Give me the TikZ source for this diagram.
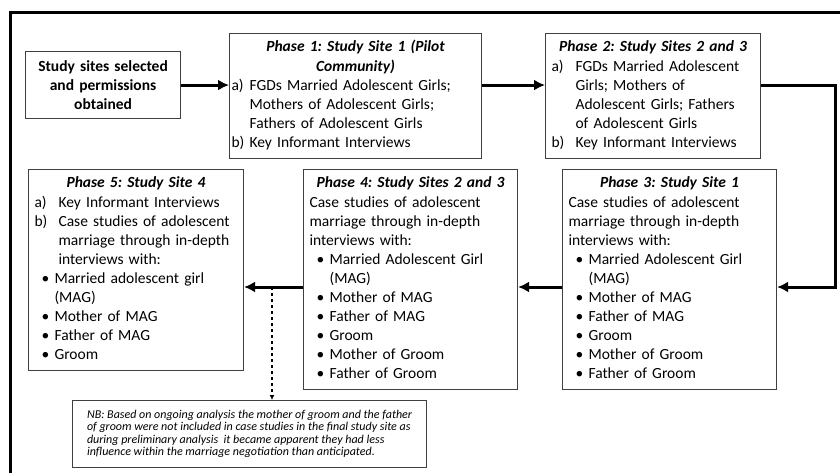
\documentclass[tikz,border=0pt]{standalone}
\usepackage{fontspec}
\setmainfont{Carlito}
\usepackage{tikz}
\usetikzlibrary{arrows.meta}

\newcommand{\phitem}[3][24pt]{\par\noindent\hangindent=#1\hangafter=1%
  \makebox[#1][l]{\strut#2}#3\strut\par}
\newcommand{\phbullet}[1]{\par\noindent\hangindent=20pt\hangafter=1%
  \makebox[20pt][l]{\hspace{7pt}\textbullet}\strut#1\strut\par}
\newcommand{\phtitle}[1]{{\centering\bfseries\itshape\strut#1\strut\par}}

\begin{document}
\frenchspacing
\begin{tikzpicture}[x=1pt, y=-1pt,
    phase/.style={draw=black!75, line width=1.1pt, anchor=north west,
      inner xsep=6pt, inner ysep=5pt, font=\fontsize{15.5}{19.1}\selectfont},
    flow/.style={line width=3pt, -{Latex[length=11pt,width=11pt]}}]
  \useasboundingbox (0,0) rectangle (840,472);
  % outer frame runs off the page on the right and bottom
  \draw[line width=3pt] (10,12) rectangle (860,490);

  \node[phase, text width=143pt, minimum height=67pt, inner ysep=2pt, align=center,
    font=\fontsize{15.5}{18.6}\selectfont\bfseries] (start) at (25,51)
    {Study sites selected\\ and permissions\\ obtained};

  \node[phase, text width=248pt, inner xsep=2pt] (p1) at (229,33) {%
    \phtitle{Phase 1: Study Site 1 (Pilot\\ Community)}
    \phitem[18pt]{a)}{FGDs Married Adolescent Girls;\newline Mothers of Adolescent Girls;\newline Fathers of Adolescent Girls}
    \phitem[18pt]{b)}{Key Informant Interviews}};

  \node[phase, text width=203pt] (p2) at (545,33) {%
    \phtitle{Phase 2: Study Sites 2 and 3}
    \phitem{a)}{FGDs Married Adolescent\newline Girls; Mothers of\newline Adolescent Girls; Fathers\newline of Adolescent Girls}
    \phitem{b)}{Key Informant Interviews}};

  \node[phase, text width=202pt] (p3) at (562,169) {%
    \phtitle{Phase 3: Study Site 1}
    \noindent\strut Case studies of adolescent\newline marriage through in-depth\newline interviews with:\par
    \phbullet{Married Adolescent Girl\newline (MAG)}
    \phbullet{Mother of MAG}
    \phbullet{Father of MAG}
    \phbullet{Groom}
    \phbullet{Mother of Groom}
    \phbullet{Father of Groom}};

  \node[phase, text width=202pt] (p4) at (303,169) {%
    \phtitle{Phase 4: Study Sites 2 and 3}
    \noindent\strut Case studies of adolescent\newline marriage through in-depth\newline interviews with:\par
    \phbullet{Married Adolescent Girl\newline (MAG)}
    \phbullet{Mother of MAG}
    \phbullet{Father of MAG}
    \phbullet{Groom}
    \phbullet{Mother of Groom}
    \phbullet{Father of Groom}};

  \node[phase, text width=203pt] (p5) at (28,169) {%
    \phtitle{Phase 5: Study Site 4}
    \phitem{a)}{Key Informant Interviews}
    \phitem{b)}{Case studies of adolescent\newline marriage through in-depth\newline interviews with:}
    \phbullet{Married adolescent girl\newline (MAG)}
    \phbullet{Mother of MAG}
    \phbullet{Father of MAG}
    \phbullet{Groom}};

  \node[phase, minimum width=354pt, minimum height=67pt, inner ysep=2pt, align=left,
    font=\fontsize{12}{12.5}\selectfont\itshape] (nb) at (72,400)
    {NB: Based on ongoing analysis the mother of groom and the father\\
     of groom were not included in case studies in the final study site as\\
     during preliminary analysis\ \ it became apparent they had less\\
     influence within the marriage negotiation than anticipated.};

  \coordinate (turn) at (835,287);
  \coordinate (split) at (272,287);
  \draw[flow] (start.east) -- (p1.west |- start.east);
  \draw[flow] (p1.east |- start.east) -- (p2.west |- start.east);
  \draw[flow] (p2.east |- start.east) -| (turn) -- (p3.east |- turn);
  \draw[flow] (p3.west |- turn) -- (p4.east |- turn);
  \draw[flow] (p4.west |- turn) -- (p5.east |- turn);
  \draw[dashed, line width=1.2pt, -{Latex[length=5pt,width=5pt]}] (split) -- (split |- nb.north);
\end{tikzpicture}
\end{document}
